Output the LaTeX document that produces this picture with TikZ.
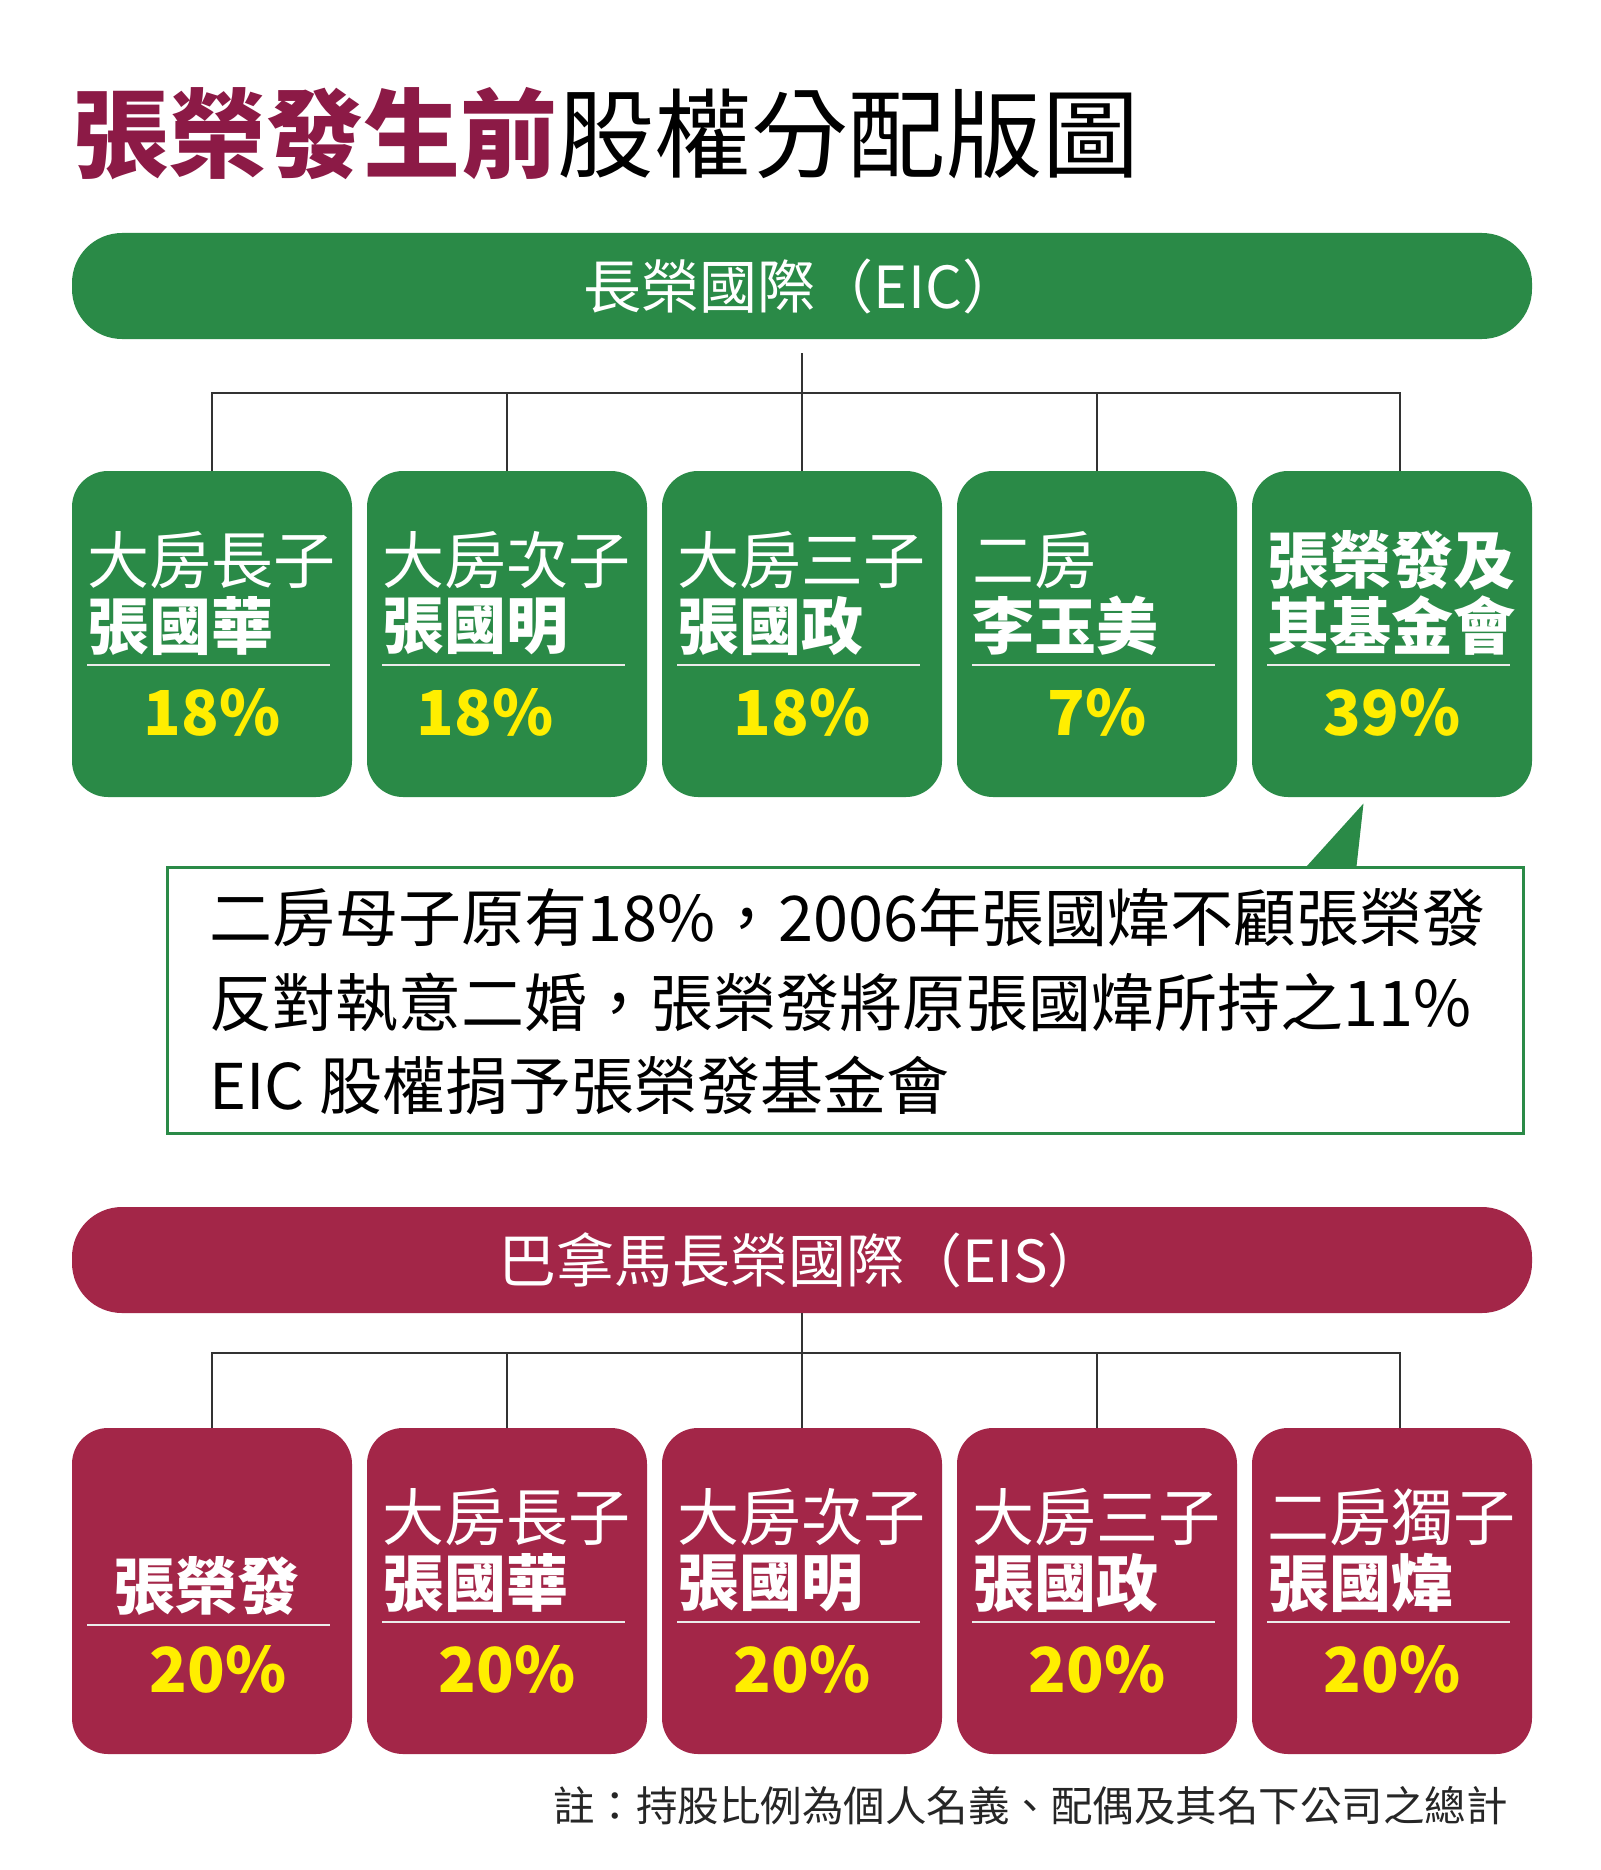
\documentclass[tikz,border=0pt]{standalone}
\usepackage{fontspec}
\setmainfont{Noto Sans CJK TC}
\usepackage{tikz}
\usetikzlibrary{positioning}
\definecolor{eicgreen}{RGB}{42,138,71}
\definecolor{eisred}{RGB}{163,38,72}
\definecolor{titlered}{RGB}{140,26,70}
\definecolor{pctyellow}{RGB}{255,238,0}
\tikzstyle{headbar} = [rectangle, rounded corners=50pt, minimum width=1460pt, minimum height=106pt, inner sep=0pt, outer sep=0pt, text=white, font=\fontsize{58}{58}\selectfont]
\tikzstyle{sharebox} = [rectangle, rounded corners=36pt, minimum width=280pt, minimum height=326pt, inner sep=0pt, outer sep=0pt]
\tikzstyle{nameline} = [inner sep=0pt, text=white, font=\fontsize{62}{62}\selectfont]
\tikzstyle{pctline} = [inner sep=0pt, text=pctyellow, font=\fontsize{62}{62}\selectfont\bfseries]
\tikzstyle{sepline} = [draw=white!92!black, line width=2pt]
\tikzstyle{conn} = [draw=black!80, line width=1.5pt]
\tikzstyle{notetext} = [inner sep=0pt, anchor=west, font=\fontsize{63}{63}\selectfont]
\newcommand{\sharetext}[5][0pt]{%
  \node[nameline, anchor=west] (#2-a) at ([xshift=15pt,yshift=-89pt]#2.north west) {#3};
  \node[nameline, anchor=west, font=\fontsize{62}{62}\selectfont\bfseries] (#2-b) at ([xshift=15pt,yshift=-155pt]#2.north west) {#4};
  \draw[sepline] ([xshift=15pt,yshift=-194pt]#2.north west) -- ([xshift=-22pt,yshift=-194pt]#2.north east);
  \node[pctline] (#2-c) at ([xshift=#1,yshift=-241pt]#2.north) {#5};
}
\begin{document}
\begin{tikzpicture}[x=1pt, y=-1pt]
\useasboundingbox (0,0) rectangle (1600,1870);
\fill[white] (0,0) rectangle (1600,1870);

\node[anchor=west, inner sep=0pt, font=\fontsize{97}{97}\selectfont] (title) at (72,134) {{\color{titlered}\bfseries 張榮發生前}股權分配版圖};

% EIC
\node[headbar, fill=eicgreen] (eic) at (802,286) {長榮國際（EIC）};
\node[sharebox, fill=eicgreen] (eicA) at (212,634) {};
\node[sharebox, fill=eicgreen, right=15pt of eicA] (eicB) {};
\node[sharebox, fill=eicgreen, right=15pt of eicB] (eicC) {};
\node[sharebox, fill=eicgreen, right=15pt of eicC] (eicD) {};
\node[sharebox, fill=eicgreen, right=15pt of eicD] (eicE) {};
\sharetext{eicA}{大房長子}{張國華}{18\%}
\sharetext[-22pt]{eicB}{大房次子}{張國明}{18\%}
\sharetext{eicC}{大房三子}{張國政}{18\%}
\sharetext{eicD}{二房}{李玉美}{7\%}
\sharetext{eicE}{\bfseries 張榮發及}{其基金會}{39\%}
\draw[conn] (eicA.north) -- ++(0,-78) -| ([xshift=8pt]eicE.north);
\draw[conn] (eicB.north) -- ++(0,-78);
\draw[conn] (eicD.north) -- ++(0,-78);
\draw[conn, shorten >=14pt] (eicC.north) -- (eic.south);

% note
\node[rectangle, draw=eicgreen, line width=3pt, fill=white, minimum width=1356pt, minimum height=266pt, inner sep=0pt] (note) at (845,1000) {};
\fill[eicgreen] ([xshift=-218pt,yshift=-1pt]note.north east) -- ([xshift=-161pt,yshift=62pt]note.north east) -- ([xshift=-168pt,yshift=-1pt]note.north east) -- cycle;
\node[notetext] (note1) at (209,918) {二房母子原有18\%，2006年張國煒不顧張榮發};
\node[notetext] (note2) at (209,1002) {反對執意二婚，張榮發將原張國煒所持之11\%};
\node[notetext] (note3) at (209,1085) {EIC 股權捐予張榮發基金會};

% EIS
\node[headbar, fill=eisred] (eis) at (802,1260) {巴拿馬長榮國際（EIS）};
\node[sharebox, fill=eisred] (eisA) at (212,1591) {};
\node[sharebox, fill=eisred, right=15pt of eisA] (eisB) {};
\node[sharebox, fill=eisred, right=15pt of eisB] (eisC) {};
\node[sharebox, fill=eisred, right=15pt of eisC] (eisD) {};
\node[sharebox, fill=eisred, right=15pt of eisD] (eisE) {};
\node[nameline, font=\fontsize{62}{62}\selectfont\bfseries] (eisA-b) at ([xshift=-6pt,yshift=-158pt]eisA.north) {張榮發};
\draw[sepline] ([xshift=15pt,yshift=-197pt]eisA.north west) -- ([xshift=-22pt,yshift=-197pt]eisA.north east);
\node[pctline] (eisA-c) at ([xshift=6pt,yshift=-241pt]eisA.north) {20\%};
\sharetext{eisB}{大房長子}{張國華}{20\%}
\sharetext{eisC}{大房次子}{張國明}{20\%}
\sharetext{eisD}{大房三子}{張國政}{20\%}
\sharetext{eisE}{二房獨子}{張國煒}{20\%}
\draw[conn] (eisA.north) -- ++(0,-75) -| ([xshift=8pt]eisE.north);
\draw[conn] (eisB.north) -- ++(0,-75);
\draw[conn] (eisD.north) -- ++(0,-75);
\draw[conn] (eisC.north) -- (eis.south);

\node[anchor=east, inner sep=0pt, text=black!85, font=\fontsize{41.5}{41.5}\selectfont] (footnote) at (1508,1806) {註：持股比例為個人名義、配偶及其名下公司之總計};
\end{tikzpicture}
\end{document}
